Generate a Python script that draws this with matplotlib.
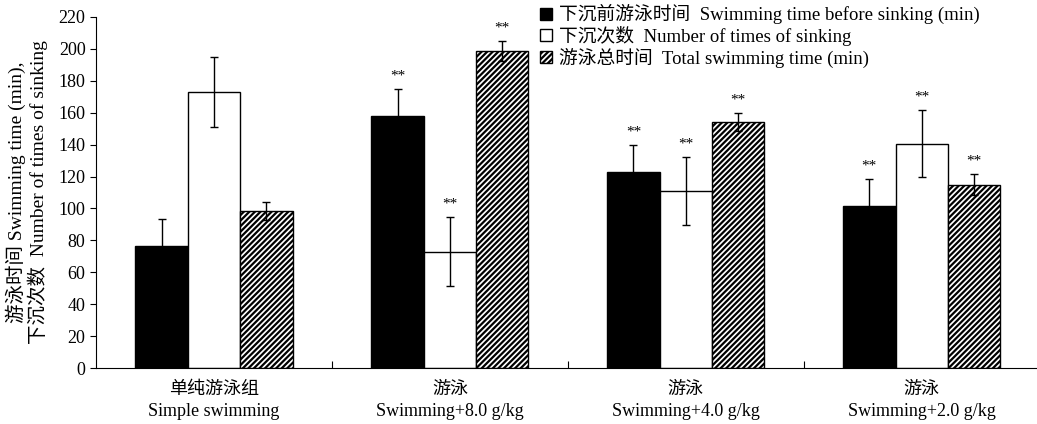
import matplotlib.pyplot as plt
import numpy as np
from matplotlib.patches import Patch

plt.rcParams['font.family'] = ['Liberation Serif', 'Noto Sans CJK SC']
plt.rcParams['hatch.linewidth'] = 1.6

# 分组标签（中文 + 英文）
groups_cn = ["单纯游泳组", "游泳", "游泳", "游泳"]
groups_en = ["Simple swimming", "Swimming+8.0 g/kg", "Swimming+4.0 g/kg", "Swimming+2.0 g/kg"]

# 三个指标的均值与误差
time_before = [76.5, 158, 123, 101.5]
time_before_err = [17, 17, 17, 17]
sink_count = [173, 73, 111, 140.5]
sink_count_err = [22, 21.5, 21.5, 21]
total_time = [98.5, 198.5, 154, 115]
total_time_err = [5.7, 6.3, 5.6, 6.4]

# 是否显著（**）
marks = [False, True, True, True]

series_names = [
    "下沉前游泳时间  Swimming time before sinking (min)",
    "下沉次数  Number of times of sinking",
    "游泳总时间  Total swimming time (min)",
]

fig = plt.figure(figsize=(10.37, 4.24), dpi=100)
ax = fig.add_axes([0.0926, 0.132, 0.91, 0.828])

x = np.arange(len(groups_en))
w = 0.222

styles = [
    dict(color="black", edgecolor="black"),
    dict(color="white", edgecolor="black"),
    dict(color="white", edgecolor="black", hatch="//////"),
]
values = [time_before, sink_count, total_time]
errors = [time_before_err, sink_count_err, total_time_err]

for i, (vals, errs, st) in enumerate(zip(values, errors, styles)):
    pos = x + (i - 1) * w
    ax.bar(pos, vals, width=w, linewidth=1, zorder=2, **st)
    ax.errorbar(pos, vals, yerr=errs, fmt="none", ecolor="black",
                elinewidth=1, capsize=3, capthick=1, zorder=3)
    for p, v, e, m in zip(pos, vals, errs, marks):
        if m:
            ax.text(p, v + e + 4, "**", ha="center", va="bottom", fontsize=11)

ax.set_xlim(-0.5, 3.5)
ax.set_ylim(0, 220)
ax.set_yticks(range(0, 221, 20))
ax.tick_params(axis="y", direction="out", length=4, labelsize=13)

# x轴：类别之间的分隔刻度朝内
ax.set_xticks([0.5, 1.5, 2.5])
ax.set_xticklabels([])
ax.tick_params(axis="x", direction="in", length=5)
for xi, cn, en in zip(x, groups_cn, groups_en):
    ax.text(xi, -8, cn, ha="center", va="top", fontsize=13)
    ax.text(xi, -22, en, ha="center", va="top", fontsize=13)

for s in ["top", "right"]:
    ax.spines[s].set_visible(False)

ax.set_ylabel("游泳时间 Swimming time (min),\n下沉次数  Number of times of sinking",
              fontsize=14, linespacing=1.12)
ax.yaxis.set_label_coords(-0.051, 0.5)

handles = [Patch(facecolor="black", edgecolor="black"),
           Patch(facecolor="white", edgecolor="black"),
           Patch(facecolor="white", edgecolor="black", hatch="//////")]
ax.legend(handles, series_names, loc="upper left", bbox_to_anchor=(0.463, 1.058),
          frameon=False, fontsize=13.5, handlelength=0.6, handleheight=0.6,
          handletextpad=0.4, labelspacing=0.09, borderaxespad=0)

fig.savefig("out.png", dpi=100)
